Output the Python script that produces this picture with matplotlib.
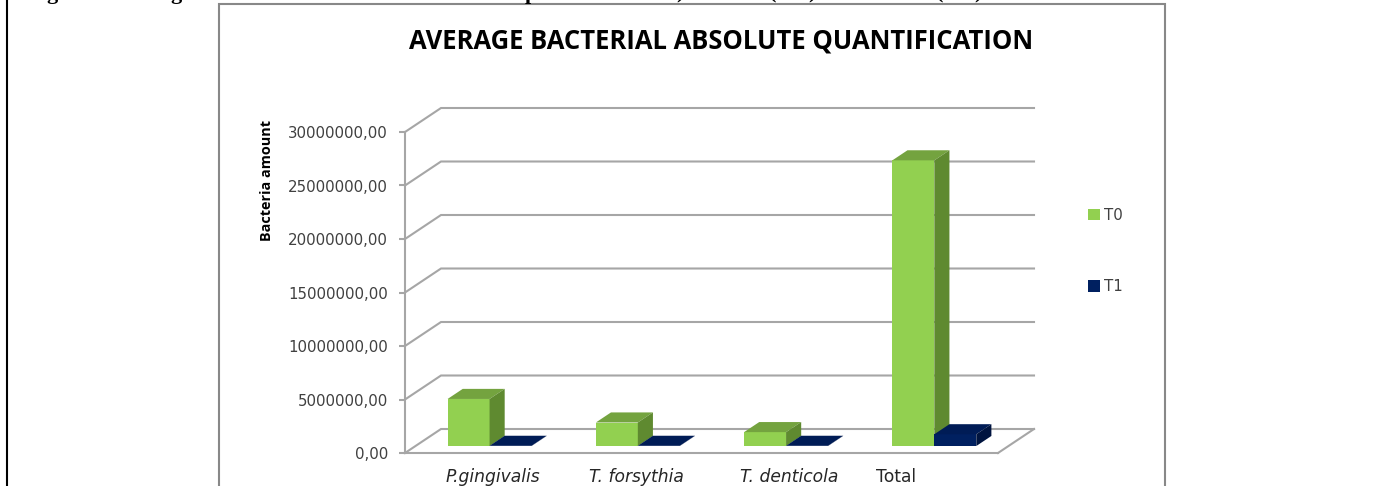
import matplotlib
matplotlib.use("Agg")
import matplotlib.pyplot as plt
from matplotlib.patches import Polygon, Patch

# ---- data ----
categories = ["P.gingivalis", "T. forsythia", "T. denticola", "Total"]
italic = [True, True, True, False]
t0_values = [4400000, 2200000, 1300000, 26700000]
t1_values = [20000, 20000, 20000, 1100000]
y_ticks = [0, 5000000, 10000000, 15000000, 20000000, 25000000, 30000000]
y_tick_labels = ["0,00", "5000000,00", "10000000,00", "15000000,00",
                 "20000000,00", "25000000,00", "30000000,00"]
title = "AVERAGE BACTERIAL ABSOLUTE QUANTIFICATION"
y_label = "Bacteria amount"
series_names = ["T0", "T1"]
cut_header_glyphs = ["g", "g", "p", ")", "(", ")", "(", ")"]

# ---- layout (pixels) ----
W, H = 1375, 486
L, R, T, B = 405, 998, 132, 453
DX, DY = 36, 24
px_x = (R - L) / 4
px_y = (B - T) / 30000000
GRID = "#A6A6A6"
TXT = "#404040"
C0 = ("#92D050", "#74A33F", "#5F8A30")
C1 = ("#002060", "#001C56", "#00143F")

fig = plt.figure(figsize=(W / 100, H / 100), dpi=100, facecolor="white")

# page layer in pixel coordinates
bg = fig.add_axes([0, 0, 1, 1], zorder=0)
bg.set_xlim(0, W)
bg.set_ylim(H, 0)
bg.axis("off")
bg.plot([7.5, 7.5], [0, H], color="black", lw=1.5, solid_capstyle="butt")
bg.plot([219.5, 219.5, 1165.5, 1165.5], [H, 4.5, 4.5, H], color="#888888", lw=1.5,
        solid_joinstyle="miter")
glyph_px = [52, 176, 531, 680, 773, 812, 940, 978]
for ch, px in zip(cut_header_glyphs, glyph_px):
    bg.text(px, -1.5, ch, ha="center", va="baseline", fontsize=16, fontweight="bold",
            family="Liberation Serif", color="black")

ax = fig.add_axes([L / W, 1 - B / H, (R - L) / W, (B - T) / H], zorder=1)
ax.patch.set_visible(False)
ax.set_xlim(0, 4)
ax.set_ylim(0, 30000000)

ddx = DX / px_x
ddy = DY / px_y

# walls and floor
for v in y_ticks:
    ax.plot([0, ddx, 4 + ddx], [v, v + ddy, v + ddy], color=GRID, lw=1.5,
            clip_on=False, zorder=1, solid_joinstyle="miter")
ax.plot([4, 4 + ddx], [0, ddy], color=GRID, lw=1.5, clip_on=False, zorder=1)

for s in ("top", "right"):
    ax.spines[s].set_visible(False)
for s in ("left", "bottom"):
    ax.spines[s].set_color(GRID)
    ax.spines[s].set_linewidth(1.5)
    ax.spines[s].set_zorder(1)

ax.set_yticks(y_ticks)
ax.set_yticklabels(y_tick_labels, fontsize=10.8, color=TXT, family="DejaVu Sans")
ax.tick_params(axis="y", length=4.5, width=1.5, color=GRID, pad=7.8)
ax.set_xticks([])

# 3D-style bars
d0, d1 = 0.29, 0.71
bar_w = 0.283


def bar3d(x_left, value, colors):
    xa = x_left + d0 * ddx
    xb = xa + bar_w
    y0 = d0 * ddy
    y1 = y0 + value
    sx = (d1 - d0) * ddx
    sy = (d1 - d0) * ddy
    ax.bar(xa, value, width=bar_w, bottom=y0, align="edge", color=colors[0],
           lw=0, clip_on=False, zorder=3)
    ax.add_patch(Polygon([(xa, y1), (xb, y1), (xb + sx, y1 + sy), (xa + sx, y1 + sy)],
                         closed=True, fc=colors[1], lw=0, clip_on=False, zorder=3))
    ax.add_patch(Polygon([(xb, y0), (xb + sx, y0 + sy), (xb + sx, y1 + sy), (xb, y1)],
                         closed=True, fc=colors[2], lw=0, clip_on=False, zorder=3))


for i in range(len(categories)):
    start = i + 0.5 - bar_w
    bar3d(start, t0_values[i], C0)
    bar3d(start + bar_w, t1_values[i], C1)

# category labels
label_px = [493, 636, 789, 896]
for name, is_it, px in zip(categories, italic, label_px):
    ax.text((px - L) / px_x, -24 / px_y, name, ha="center", va="center", fontsize=12.3,
            color="#262626", style="italic" if is_it else "normal",
            family="DejaVu Sans", clip_on=False)

# titles
bg.text(721.5, 41, title, ha="center", va="center", fontsize=18.45, fontweight="bold",
        family="Open Sans", color="black")
bg.text(267, 180.5, y_label, ha="center", va="center", rotation=90, fontsize=10.4,
        fontweight="bold", family="Open Sans", color="black")

# legend
handles = [Patch(fc=C0[0], lw=0, label=series_names[0]),
           Patch(fc=C1[0], lw=0, label=series_names[1])]
leg = fig.legend(handles=handles, loc="center left",
                 bbox_to_anchor=(1088 / W, 1 - 251 / H),
                 bbox_transform=fig.transFigure, frameon=False, borderaxespad=0,
                 borderpad=0, handlelength=0.78, handleheight=0.78, handletextpad=0.3,
                 labelspacing=3.78,
                 prop={"family": "DejaVu Sans", "size": 10.8})
for t in leg.get_texts():
    t.set_color(TXT)

fig.savefig("out.png", dpi=100)
